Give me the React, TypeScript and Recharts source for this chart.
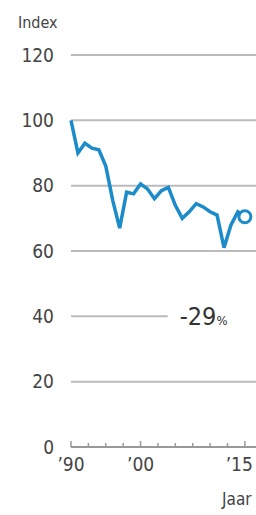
import { LineChart, Line, XAxis, YAxis, CartesianGrid, ReferenceArea } from "recharts";

const YEARS = [
  1990, 1991, 1992, 1993, 1994, 1995, 1996, 1997, 1998, 1999, 2000, 2001, 2002,
  2003, 2004, 2005, 2006, 2007, 2008, 2009, 2010, 2011, 2012, 2013, 2014, 2015,
];
const INDEX = [
  100, 90, 93, 91.5, 91, 86, 75.5, 67, 78, 77.5, 80.5, 79, 76, 78.5, 79.5, 74,
  70, 72, 74.5, 73.5, 72, 71, 61, 68, 72, 70.5,
];
const Y_TICKS = [0, 20, 40, 60, 80, 100, 120];
const X_TICKS = [1990, 1992.5, 1995, 1997.5, 2000, 2002.5, 2005, 2007.5, 2010, 2012.5, 2015];
const X_LABELS = [1990, 2000, 2015];
const CHANGE_LABEL = "-29";

const FONT = "'DejaVu Sans Condensed', 'Liberation Sans Narrow', 'Open Sans', sans-serif";
const BLUE = "#1b8bc9";

const data = YEARS.map((year, i) => ({ year, value: INDEX[i] }));

function XTick({ x, y, payload }: any) {
  const major = X_LABELS.includes(payload.value);
  const last = payload.value === X_LABELS[X_LABELS.length - 1];
  return (
    <g>
      <line x1={x} x2={x} y1={y} y2={y - (major ? 6 : 4)} stroke="#999" strokeWidth={1.5} />
      {major && (
        <text
          x={last ? x + 8 : x}
          y={y + 24}
          textAnchor={last ? "end" : "middle"}
          fontSize={19}
          fill="#444"
          fontFamily={FONT}
        >
          {"\u2019" + String(payload.value).slice(2)}
        </text>
      )}
    </g>
  );
}

function EndDot({ cx, cy, index }: any) {
  if (index !== data.length - 1) return null;
  return <circle cx={cx} cy={cy} r={6} fill="#fff" stroke={BLUE} strokeWidth={3} />;
}

function ChangeLabel({ viewBox }: any) {
  const { x, y, height } = viewBox;
  return (
    <text x={x + 12} y={y + height / 2 + 9} fontFamily={FONT} fill="#333">
      <tspan fontSize={25}>{CHANGE_LABEL}</tspan>
      <tspan fontSize={13}>%</tspan>
    </text>
  );
}

export default function App() {
  return (
    <div style={{ position: "relative", width: 256, height: 515, fontFamily: FONT, color: "#444" }}>
      <style>{"body{margin:0}"}</style>
      <div style={{ position: "absolute", left: 18, top: 13, fontSize: 16 }}>Index</div>
      <div style={{ position: "absolute", left: 222, top: 489, fontSize: 17 }}>Jaar</div>
      <LineChart width={256} height={515} data={data} margin={{ top: 55, right: 0, bottom: 0, left: 0 }}>
        <CartesianGrid vertical={false} stroke="#bbb" strokeWidth={2} />
        <XAxis
          dataKey="year"
          type="number"
          domain={[1990, 2016.6]}
          ticks={X_TICKS}
          interval={0}
          height={68}
          tickSize={0}
          tickMargin={0}
          tickLine={false}
          axisLine={{ stroke: "#999", strokeWidth: 2 }}
          tick={<XTick />}
        />
        <YAxis
          domain={[0, 120]}
          ticks={Y_TICKS}
          width={71}
          axisLine={false}
          tickLine={false}
          tickSize={0}
          tickMargin={17}
          tick={{ fontSize: 19, fill: "#444", fontFamily: FONT }}
        />
        <ReferenceArea
          x1={2003.9}
          x2={2016.6}
          y1={37}
          y2={43}
          fill="#fff"
          fillOpacity={1}
          stroke="none"
          label={<ChangeLabel />}
        />
        <Line
          type="linear"
          dataKey="value"
          stroke={BLUE}
          strokeWidth={3.5}
          dot={<EndDot />}
          activeDot={false}
          isAnimationActive={false}
        />
      </LineChart>
    </div>
  );
}
